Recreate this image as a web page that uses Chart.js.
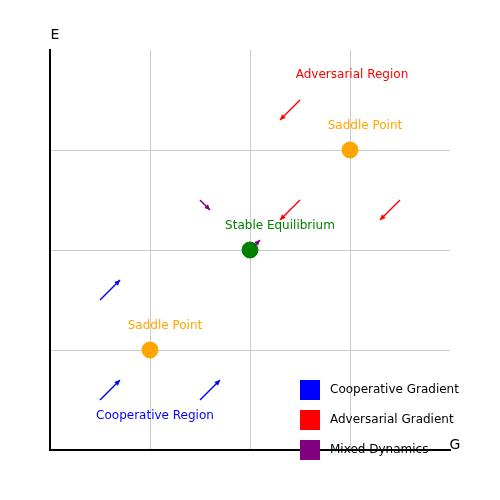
<!DOCTYPE html>
<html><head><meta charset="utf-8">
<script src="https://cdn.jsdelivr.net/npm/chart.js@4"></script>
<style>html,body{margin:0;padding:0;background:#fff}#wrap{width:500px;height:500px}</style>
</head><body><div id="wrap"><canvas id="c"></canvas></div>
<script>
// points: stable equilibrium + saddle points
const stablePts = [{ x: 2, y: 2 }];
const saddlePts = [{ x: 3, y: 3 }, { x: 1, y: 1 }];

// arrows [x0, y0, x1, y1]
const coopArrows = [[0.5, 0.5, 0.7, 0.7], [0.5, 1.5, 0.7, 1.7], [1.5, 0.5, 1.7, 0.7]];
const advArrows = [[2.5, 3.5, 2.3, 3.3], [2.5, 2.5, 2.3, 2.3], [3.5, 2.5, 3.3, 2.3]];
const mixedArrows = [[1.5, 2.5, 1.6, 2.4], [2.05, 2.05, 2.1, 2.1]];

// text labels [text, x, y, color]
const labels = [
  ['Adversarial Region', 3.02, 3.75, 'red'],
  ['Saddle Point', 3.15, 3.24, 'orange'],
  ['Stable Equilibrium', 2.3, 2.24, 'green'],
  ['Saddle Point', 1.15, 1.24, 'orange'],
  ['Cooperative Region', 1.05, 0.34, 'blue']
];
const legendItems = [['Cooperative Gradient', 'blue'], ['Adversarial Gradient', 'red'], ['Mixed Dynamics', 'purple']];

const overlay = {
  id: 'overlay',
  afterDatasetsDraw(chart) {
    const { ctx, scales: { x, y } } = chart;
    const arrow = (a, col) => {
      const x0 = x.getPixelForValue(a[0]), y0 = y.getPixelForValue(a[1]);
      const x1 = x.getPixelForValue(a[2]), y1 = y.getPixelForValue(a[3]);
      ctx.strokeStyle = col; ctx.fillStyle = col; ctx.lineWidth = 1.5;
      ctx.beginPath(); ctx.moveTo(x0, y0); ctx.lineTo(x1, y1); ctx.stroke();
      const ang = Math.atan2(y1 - y0, x1 - x0), h = 6;
      ctx.beginPath(); ctx.moveTo(x1, y1);
      ctx.lineTo(x1 - h * Math.cos(ang - 0.45), y1 - h * Math.sin(ang - 0.45));
      ctx.lineTo(x1 - h * Math.cos(ang + 0.45), y1 - h * Math.sin(ang + 0.45));
      ctx.closePath(); ctx.fill();
    };
    ctx.save();
    coopArrows.forEach(a => arrow(a, 'blue'));
    advArrows.forEach(a => arrow(a, 'red'));
    mixedArrows.forEach(a => arrow(a, 'purple'));
    ctx.font = '12px "DejaVu Sans", sans-serif';
    ctx.textAlign = 'center'; ctx.textBaseline = 'middle';
    labels.forEach(l => { ctx.fillStyle = l[3]; ctx.fillText(l[0], x.getPixelForValue(l[1]), y.getPixelForValue(l[2])); });
    ctx.font = '14px "DejaVu Sans", sans-serif';
    ctx.fillStyle = '#000';
    ctx.fillText('E', x.left + 5, y.top - 15);
    ctx.fillText('G', x.right + 5, y.bottom - 5);
    ctx.font = '12px "DejaVu Sans", sans-serif';
    ctx.textAlign = 'left';
    legendItems.forEach((it, i) => {
      const ty = y.getPixelForValue(0.6) + i * 30;
      ctx.fillStyle = it[1];
      ctx.fillRect(x.getPixelForValue(2.5), ty - 10, 20, 20);
      ctx.fillStyle = '#000';
      ctx.fillText(it[0], x.getPixelForValue(2.8), ty);
    });
    ctx.restore();
  }
};

new Chart(document.getElementById('c'), {
  type: 'scatter',
  data: {
    datasets: [
      { data: stablePts, backgroundColor: 'green', borderColor: 'green', pointRadius: 8 },
      { data: saddlePts, backgroundColor: 'orange', borderColor: 'orange', pointRadius: 8 }
    ]
  },
  options: {
    responsive: true, maintainAspectRatio: false, animation: false,
    layout: { padding: { left: 50, right: 50, top: 50, bottom: 50 } },
    plugins: { legend: { display: false }, tooltip: { enabled: false } },
    scales: {
      x: {
        min: 0, max: 4, ticks: { display: false, stepSize: 1 },
        border: { display: true, color: '#000', width: 2 },
        grid: { color: c => (c.tick.value === 0 || c.tick.value === 4) ? 'transparent' : '#ccc', tickLength: 0 },
      },
      y: {
        min: 0, max: 4, ticks: { display: false, stepSize: 1 },
        border: { display: true, color: '#000', width: 2 },
        grid: { color: c => (c.tick.value === 0 || c.tick.value === 4) ? 'transparent' : '#ccc', tickLength: 0 },
      }
    }
  },
  plugins: [overlay]
});
</script></body></html>
